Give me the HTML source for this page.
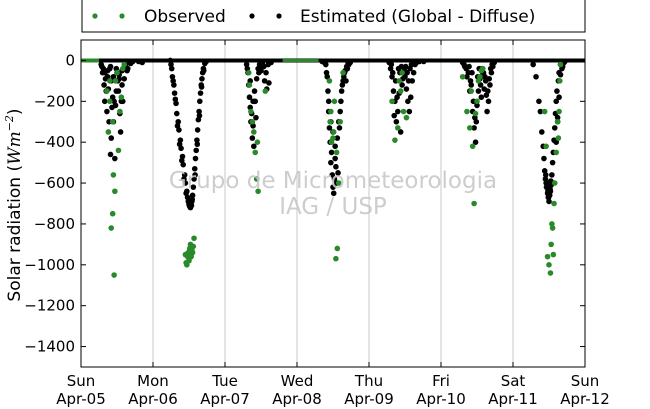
<!DOCTYPE html>
<html><head><meta charset="utf-8"><style>
body{margin:0;background:#fff;}
svg{display:block;font-family:"DejaVu Sans","Liberation Sans",sans-serif;}
</style></head><body>
<svg id="chart" width="650" height="409" viewBox="0 0 650 409">
<rect x="0" y="0" width="650" height="409" fill="#fff"/>
<g id="grid"></g>
<g id="marks"></g>
<g id="axes"></g>
<g fill="#c8c8c8" font-size="23" text-anchor="middle" opacity="0.9">
<text x="333" y="188">Grupo de Micrometeorologia</text>
<text x="333" y="214">IAG / USP</text>
</g>
<g>
<rect x="82" y="-2" width="503" height="34" fill="#fff" stroke="#000" stroke-width="1"/>
<circle cx="95" cy="16" r="2.6" fill="#2a8a2a"/>
<circle cx="122" cy="16" r="2.6" fill="#2a8a2a"/>
<text x="144" y="22" font-size="17">Observed</text>
<circle cx="252" cy="16" r="2.6" fill="#000"/>
<circle cx="279" cy="16" r="2.6" fill="#000"/>
<text x="300" y="22" font-size="17">Estimated (Global - Diffuse)</text>
</g>
<text transform="translate(20,205) rotate(-90)" text-anchor="middle" font-size="17">Solar radiation (<tspan font-family="DejaVu Serif" font-style="italic">Wm</tspan><tspan font-size="11" dy="-7" font-family="DejaVu Serif" font-style="italic">−2</tspan><tspan dy="7">)</tspan></text>
</svg>
<script>
const dayLabels=["Sun","Mon","Tue","Wed","Thu","Fri","Sat","Sun"];
const dateLabels=["Apr-05","Apr-06","Apr-07","Apr-08","Apr-09","Apr-10","Apr-11","Apr-12"];
const yTicks=[0,-200,-400,-600,-800,-1000,-1200,-1400];
const estTimes=[0.28,0.30,0.31,0.32,0.33,0.34,0.35,0.36,0.37,0.38,0.39,0.40,0.41,0.42,0.42,0.43,0.44,0.45,0.46,0.47,0.48,0.49,0.50,0.51,0.52,0.53,0.54,0.55,0.56,0.57,0.58,0.60,0.62,0.64,0.66,0.29,0.33,0.37,0.41,0.45,0.49,0.53,0.57,0.61,0.65,0.69,0.72,0.80,0.85,
1.24,1.26,1.27,1.29,1.30,1.32,1.33,1.35,1.36,1.38,1.39,1.41,1.42,1.44,1.45,1.47,1.48,1.49,1.50,1.51,1.52,1.53,1.54,1.55,1.56,1.57,1.58,1.59,1.60,1.61,1.62,1.63,1.64,1.65,1.66,1.67,1.68,1.69,1.70,1.72,1.74,1.25,1.28,1.31,1.34,1.37,1.40,1.43,1.46,1.505,1.515,1.525,1.535,1.545,1.585,1.615,1.645,1.675,1.705,
2.30,2.32,2.33,2.34,2.35,2.36,2.37,2.38,2.39,2.40,2.41,2.42,2.44,2.46,2.48,2.50,2.52,2.55,2.58,2.60,2.62,2.31,2.35,2.39,2.43,2.47,2.51,2.54,2.57,2.61,2.64,
3.40,3.42,3.43,3.44,3.45,3.46,3.47,3.48,3.49,3.50,3.51,3.52,3.53,3.54,3.55,3.56,3.58,3.60,3.62,3.64,3.66,3.68,3.70,3.72,3.74,3.35,3.38,3.41,3.44,3.47,3.50,3.53,3.57,3.59,3.61,3.63,3.65,3.67,3.69,3.71,
4.28,4.30,4.32,4.34,4.35,4.36,4.38,4.40,4.42,4.44,4.46,4.48,4.50,4.52,4.54,4.56,4.58,4.60,4.62,4.64,4.31,4.33,4.37,4.39,4.41,4.43,4.45,4.47,4.49,4.51,4.53,4.55,4.57,4.59,4.66,4.70,4.76,
5.30,5.33,5.36,5.38,5.40,5.42,5.44,5.45,5.46,5.47,5.48,5.50,5.52,5.54,5.56,5.58,5.60,5.62,5.64,5.66,5.68,5.70,5.72,5.74,5.32,5.35,5.39,5.41,5.43,5.49,5.51,5.53,5.55,5.57,5.59,5.61,5.63,5.65,5.67,5.69,5.71,
6.28,6.32,6.36,6.38,6.40,6.42,6.43,6.44,6.45,6.46,6.47,6.48,6.49,6.50,6.51,6.52,6.53,6.54,6.55,6.56,6.57,6.58,6.59,6.60,6.61,6.62,6.63,6.64,6.66,6.68,6.70,6.72,6.455,6.465,6.475,6.485,6.495,6.505,6.515,6.525,6.60,6.62,6.64,6.66,6.69,6.71];
const estValues=[-20,-60,-40,-120,-200,-90,-150,-250,-80,-140,-300,-40,-460,-100,-380,-230,-180,-300,-200,-480,-220,-150,-60,-100,-150,-90,-260,-350,-200,-120,-200,-90,-30,-50,-10,-30,-60,-50,-30,-80,-40,-70,-50,-20,-40,-15,-5,-5,-10,
0,-40,-80,-120,-160,-210,-260,-300,-340,-390,-430,-470,-510,-560,-600,-640,-670,-690,-705,-715,-720,-710,-690,-660,-620,-580,-530,-480,-440,-390,-340,-290,-250,-200,-160,-120,-90,-60,-40,-15,-5,-20,-100,-190,-320,-410,-490,-580,-650,-700,-690,-700,-710,-680,-560,-410,-270,-130,-50,
-20,-60,-120,-180,-230,-300,-260,-380,-320,-420,-150,-200,-90,-40,-20,-50,-10,-100,-140,-20,-10,-40,-100,-200,-280,-60,-30,-30,-60,-110,-10,
-20,-80,-150,-250,-330,-400,-500,-450,-560,-620,-650,-580,-480,-520,-600,-380,-300,-250,-150,-100,-60,-100,-40,-20,-10,-5,-10,-60,-200,-300,-350,-420,-550,-330,-200,-120,-80,-50,-30,-15,
-10,-40,-80,-150,-270,-200,-300,-250,-160,-350,-120,-60,-80,-140,-200,-250,-180,-100,-60,-20,-20,-60,-100,-180,-40,-60,-30,-90,-40,-30,-60,-100,-40,-20,-10,-5,-5,
-10,-30,-80,-60,-150,-120,-250,-200,-330,-280,-400,-220,-150,-90,-180,-60,-140,-100,-250,-200,-120,-60,-30,-10,-20,-40,-30,-100,-60,-300,-80,-40,-120,-40,-60,-80,-170,-150,-90,-40,-20,
-20,-80,-200,-250,-350,-420,-480,-540,-580,-600,-620,-650,-670,-690,-660,-640,-610,-560,-500,-450,-390,-330,-260,-200,-150,-300,-100,-60,-20,-40,-10,-5,-560,-620,-600,-640,-670,-650,-630,-590,-400,-280,-180,-70,-30,-10];
const obsTimes=[0.36,0.38,0.40,0.42,0.44,0.45,0.46,0.47,0.48,0.52,0.54,0.56,0.60,0.40,0.44,0.50,0.58,
1.45,1.47,1.48,1.49,1.50,1.51,1.52,1.53,1.54,1.55,1.56,1.57,1.50,1.52,1.46,1.51,1.53,
2.34,2.36,2.38,2.40,2.42,2.44,2.46,2.56,2.33,2.45,
3.45,3.46,3.48,3.50,3.52,3.54,3.56,3.58,3.60,3.64,3.47,3.51,3.55,
4.32,4.36,4.40,4.44,4.48,4.52,4.42,4.46,
5.30,5.36,5.40,5.44,5.46,5.48,5.50,5.52,5.56,5.42,5.54,5.58,
6.44,6.46,6.48,6.50,6.52,6.53,6.54,6.55,6.56,6.58,6.60,6.62,6.64,6.66,6.63,6.65,6.57];
const obsValues=[-150,-350,-200,-820,-750,-560,-1050,-640,-100,-440,-250,-180,-20,-100,-300,-60,-40,
-950,-1000,-960,-940,-980,-920,-900,-960,-930,-940,-910,-870,-970,-950,-990,-930,-950,
-120,-250,-300,-350,-450,-580,-640,-150,-60,-400,
-100,-300,-400,-380,-200,-970,-920,-600,-300,-60,-250,-350,-450,
-200,-390,-330,-150,-250,-280,-100,-60,
-80,-250,-330,-420,-700,-260,-200,-100,-50,-150,-80,-40,
-250,-420,-960,-1000,-1040,-900,-800,-820,-950,-600,-450,-300,-250,-20,-380,-100,-700];
const NS="http://www.w3.org/2000/svg";
const L=81,R=585,T=40,B=367;
const xS=d=>L+d*(R-L)/7;
const yS=v=>T+(100-v)*(B-T)/1600;
function mk(tag,attrs,parent){const e=document.createElementNS(NS,tag);for(const k in attrs)e.setAttribute(k,attrs[k]);parent.appendChild(e);return e;}
const grid=document.getElementById('grid'),marks=document.getElementById('marks'),axes=document.getElementById('axes');
for(let i=1;i<7;i++){const g=mk('line',{x1:xS(i),x2:xS(i),y1:T,y2:B,stroke:'#c8c8c8','stroke-width':1},grid);

}
const zl=mk('line',{x1:L,x2:R,y1:yS(0),y2:yS(0),stroke:'#000','stroke-width':4},marks);


const gl=mk('line',{x1:L,x2:xS(0.25),y1:yS(0),y2:yS(0),stroke:'#2a8a2a','stroke-width':4},marks);


const gl2=mk('line',{x1:xS(2.8),x2:xS(3.3),y1:yS(0),y2:yS(0),stroke:'#2a8a2a','stroke-width':3},marks);


for(let i=0;i<estTimes.length;i++){const c=mk('circle',{cx:xS(estTimes[i]),cy:yS(estValues[i]),r:2.8,fill:'#000'},marks);

}
for(let i=0;i<obsTimes.length;i++){const c=mk('circle',{cx:xS(obsTimes[i]),cy:yS(obsValues[i]),r:2.8,fill:'#2a8a2a'},marks);

}
const fr=mk('rect',{x:L,y:T,width:R-L,height:B-T,fill:'none',stroke:'#000','stroke-width':1},axes);


yTicks.forEach(v=>{const y=yS(v);
mk('line',{x1:L,x2:L+5,y1:y,y2:y,stroke:'#000'},axes);
mk('line',{x1:R,x2:R-5,y1:y,y2:y,stroke:'#000'},axes);
const t=mk('text',{x:L-6,y:y+5,'text-anchor':'end','font-size':15},axes);t.textContent=String(v).replace('-','\u2212');

});
dayLabels.forEach((d,i)=>{const x=xS(i);
mk('line',{x1:x,x2:x,y1:B,y2:B-5,stroke:'#000'},axes);
mk('line',{x1:x,x2:x,y1:T,y2:T+5,stroke:'#000'},axes);
const t=mk('text',{x:x,y:386,'text-anchor':'middle','font-size':15},axes);t.textContent=d;


const t2=mk('text',{x:x,y:404,'text-anchor':'middle','font-size':15},axes);t2.textContent=dateLabels[i];

});
</script>
</body></html>
